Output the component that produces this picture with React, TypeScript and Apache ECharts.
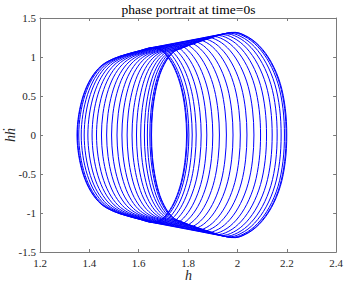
import { useEffect, useRef } from "react";
import * as echarts from "echarts";

// axis ranges / ticks
const xRange = [1.2, 2.4];
const xTickStep = 0.2;
const yRange = [-1.5, 1.5];
const yTickStep = 0.5;

const titleText = "phase portrait at time=0s";
const xName = "h";
const yName = "h\u1E23";

// leftmost h of each loop (read at hdot = 0)
const loopLeftH = [
  1.35, 1.352, 1.357, 1.367, 1.379, 1.394, 1.411, 1.429, 1.449, 1.47, 1.49,
  1.512, 1.532, 1.553, 1.573, 1.591, 1.608, 1.623, 1.635, 1.645, 1.65, 1.652,
];

// upper half of the leftmost loop (h, hdot)
const firstLoopUpper: [number, number][] = [
  [1.35, 0], [1.357, 0.265], [1.376, 0.515], [1.406, 0.725], [1.447, 0.885],
  [1.497, 0.978], [1.55, 1.035], [1.603, 1.08], [1.652, 1.118], [1.693, 1.08],
  [1.727, 0.955], [1.755, 0.775], [1.776, 0.55], [1.789, 0.285], [1.794, 0],
];

// upper half of the rightmost loop (h, hdot)
const lastLoopUpper: [number, number][] = [
  [1.652, 0], [1.656, 0.29], [1.668, 0.555], [1.686, 0.775], [1.71, 0.94],
  [1.737, 1.05], [1.768, 1.105], [1.87, 1.222], [1.975, 1.315], [2.034, 1.272],
  [2.09, 1.14], [2.138, 0.93], [2.174, 0.658], [2.194, 0.34], [2.2, 0],
];

function buildLoop(leftH: number): number[][] {
  const a0 = firstLoopUpper[0][0];
  const b0 = lastLoopUpper[0][0];
  const s = (leftH - a0) / (b0 - a0);
  const upper = firstLoopUpper.map((p, i) => [
    p[0] + (lastLoopUpper[i][0] - p[0]) * s,
    p[1] + (lastLoopUpper[i][1] - p[1]) * s,
  ]);
  const lower: number[][] = [];
  for (let i = upper.length - 2; i >= 1; i--) lower.push([upper[i][0], -upper[i][1]]);
  return upper.concat(lower); // closed loop, first point not repeated
}

const loops = loopLeftH.map(buildLoop);

export default function App() {
  const ref = useRef<HTMLDivElement>(null);
  useEffect(() => {
    const chart = echarts.init(ref.current!, undefined, { renderer: "svg" });
    const axisColor = "#7a7a7a";
    const labelFont = "Liberation Serif";
    const baseX = {
      type: "value",
      min: xRange[0],
      max: xRange[1],
      interval: xTickStep,
      axisLine: { show: true, onZero: false, lineStyle: { color: axisColor, width: 1 } },
      axisTick: { show: true, inside: true, length: 3, lineStyle: { color: axisColor } },
      splitLine: { show: false },
    };
    const baseY = {
      type: "value",
      min: yRange[0],
      max: yRange[1],
      interval: yTickStep,
      axisLine: { show: true, onZero: false, lineStyle: { color: axisColor, width: 1 } },
      axisTick: { show: true, inside: true, length: 3, lineStyle: { color: axisColor } },
      splitLine: { show: false },
    };
    const textStyle = (font: string, fill: string) => ({
      font,
      fill,
      align: "center",
      verticalAlign: "middle",
      textAlign: "center",
      textVerticalAlign: "middle",
    });
    const option: any = {
      animation: false,
      backgroundColor: "#ffffff",
      grid: { left: 40, right: 9, top: 18, bottom: 29, containLabel: false },
      xAxis: [
        {
          ...baseX,
          position: "bottom",
          axisLabel: { show: true, margin: 5, color: "#262626", fontFamily: labelFont, fontSize: 11 },
        },
        { ...baseX, position: "top", axisLabel: { show: false } },
      ],
      yAxis: [
        {
          ...baseY,
          position: "left",
          axisLabel: { show: true, margin: 4, color: "#262626", fontFamily: labelFont, fontSize: 11 },
        },
        { ...baseY, position: "right", axisLabel: { show: false } },
      ],
      graphic: [
        {
          type: "text",
          x: 188.5,
          y: 9.5,
          style: { text: titleText, ...textStyle(`13.5px '${labelFont}'`, "#000") },
        },
        {
          type: "text",
          x: 188.5,
          y: 275,
          style: { text: xName, ...textStyle(`italic 14px '${labelFont}'`, "#262626") },
        },
        {
          type: "text",
          x: 10,
          y: 135,
          rotation: Math.PI / 2,
          style: { text: yName, ...textStyle(`italic 14px '${labelFont}'`, "#262626") },
        },
      ],
      series: [
        {
          type: "custom",
          xAxisIndex: 0,
          yAxisIndex: 0,
          silent: true,
          clip: true,
          data: loopLeftH.map((l, i) => [l, 0, i]),
          encode: { x: 0, y: 1 },
          renderItem: (params: any, api: any) => {
            const loop = loops[api.value(2)];
            const pts = loop.map((p) => api.coord(p));
            const n = pts.length;
            let d = `M${pts[0][0]},${pts[0][1]}`;
            for (let i = 0; i < n; i++) {
              const p0 = pts[(i - 1 + n) % n];
              const p1 = pts[i];
              const p2 = pts[(i + 1) % n];
              const p3 = pts[(i + 2) % n];
              const c1x = p1[0] + (p2[0] - p0[0]) / 6;
              const c1y = p1[1] + (p2[1] - p0[1]) / 6;
              const c2x = p2[0] - (p3[0] - p1[0]) / 6;
              const c2y = p2[1] - (p3[1] - p1[1]) / 6;
              d += `C${c1x},${c1y},${c2x},${c2y},${p2[0]},${p2[1]}`;
            }
            d += "Z";
            return {
              type: "path",
              shape: { pathData: d },
              style: { fill: "none", stroke: "#0000ff", lineWidth: 1 },
            };
          },
        },
      ],
    };
    chart.setOption(option);
    return () => chart.dispose();
  }, []);
  return (
    <div
      ref={ref}
      style={{ position: "fixed", left: 0, top: 0, width: 346, height: 281, background: "#fff" }}
    />
  );
}
